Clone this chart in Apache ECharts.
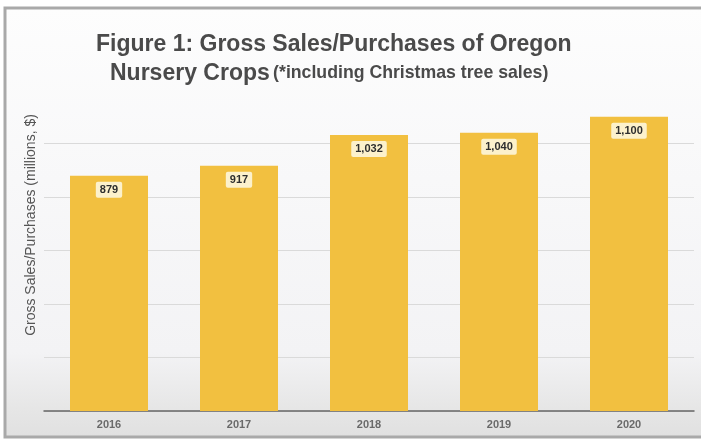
<!DOCTYPE html>
<html>
<head>
<meta charset="utf-8">
<script src="https://cdn.jsdelivr.net/npm/echarts@6/dist/echarts.min.js"></script>
<style>
  html, body { margin: 0; padding: 0; background: #ffffff; }
  #chart { width: 701px; height: 441px; }
</style>
</head>
<body>
<div id="chart"></div>
<script>
// Oregon nursery crop sales by year (millions of dollars)
const years = ['2016', '2017', '2018', '2019', '2020'];
const salesMillions = [879, 917, 1032, 1040, 1100];
const valueLabels = ['879', '917', '1,032', '1,040', '1,100'];

const titleLine1 = 'Figure 1: Gross Sales/Purchases of Oregon';
const titleLine2Main = 'Nursery Crops';
const titleLine2Note = '(*including Christmas tree sales)';
const yAxisTitle = 'Gross Sales/Purchases (millions, $)';

const chart = echarts.init(document.getElementById('chart'), null, { renderer: 'canvas' });

chart.setOption({
  animation: false,
  backgroundColor: '#ffffff',
  graphic: [
    {
      // framed panel behind the chart (right edge runs off the page)
      type: 'rect',
      z: -10,
      shape: { x: 5, y: 8, width: 720, height: 429 },
      style: {
        fill: {
          type: 'linear', x: 0, y: 0, x2: 0, y2: 1,
          colorStops: [
            { offset: 0, color: '#fdfdfd' },
            { offset: 0.8, color: '#f3f3f5' },
            { offset: 0.93, color: '#e6e6e6' },
            { offset: 1, color: '#e0e0e0' }
          ]
        },
        stroke: '#a9a9a9',
        lineWidth: 3
      }
    },
    {
      type: 'text',
      left: 96, top: 33,
      style: {
        text: titleLine1,
        font: 'bold 23px "Liberation Sans", sans-serif',
        fill: '#4a4a4a'
      }
    },
    {
      type: 'text',
      left: 110, top: 62,
      style: {
        text: '{a|' + titleLine2Main + '} {b|' + titleLine2Note + '}',
        rich: {
          a: { font: 'bold 23px "Liberation Sans", sans-serif', fill: '#4a4a4a' },
          b: { font: 'bold 17.7px "Liberation Sans", sans-serif', fill: '#4a4a4a' }
        }
      }
    },
    {
      // vertical axis title
      type: 'text',
      x: 31, y: 225,
      rotation: Math.PI / 2,
      style: {
        text: yAxisTitle,
        font: '14px "Liberation Sans", sans-serif',
        fill: '#555555',
        align: 'center',
        verticalAlign: 'middle'
      }
    }
  ],
  grid: { left: 44, right: 7, top: 90, bottom: 30 },
  xAxis: {
    type: 'category',
    data: years,
    axisTick: { show: false },
    axisLine: { lineStyle: { color: '#666666', width: 1.5 } },
    axisLabel: {
      color: '#6a6a6a',
      fontSize: 11,
      fontWeight: 'bold',
      fontFamily: '"Liberation Sans", sans-serif',
      margin: 8
    }
  },
  yAxis: {
    type: 'value',
    min: 0,
    max: 1200,
    interval: 200,
    axisLabel: { show: false },
    axisLine: { show: false },
    axisTick: { show: false },
    splitLine: { showMaxLine: false, lineStyle: { color: '#dadada', width: 1 } }
  },
  series: [
    {
      type: 'bar',
      data: salesMillions,
      barWidth: 78,
      itemStyle: { color: '#F2C040' },
      label: {
        show: true,
        position: 'insideTop',
        distance: 6,
        formatter: (p) => valueLabels[p.dataIndex],
        color: '#2e2e2e',
        fontSize: 11,
        fontWeight: 'bold',
        fontFamily: '"Liberation Sans", sans-serif',
        backgroundColor: '#fcf1cc',
        padding: [3, 4, 2, 4],
        borderRadius: 2
      }
    }
  ]
});
</script>
</body>
</html>
